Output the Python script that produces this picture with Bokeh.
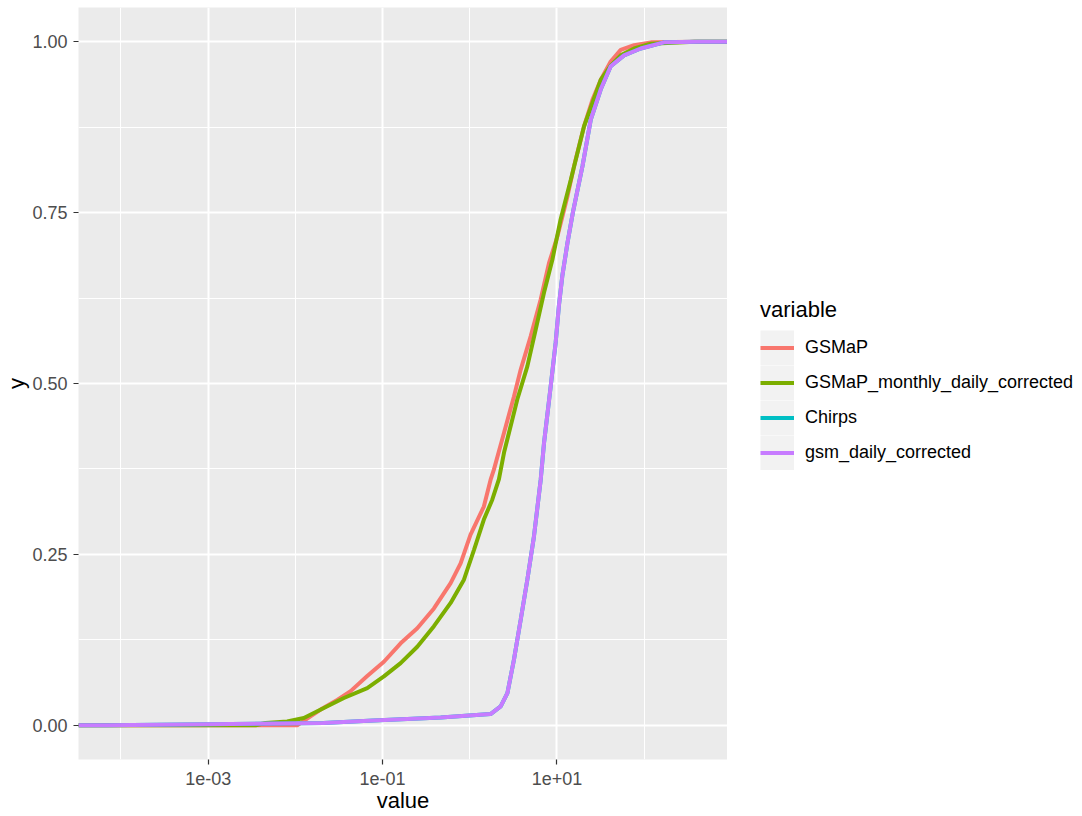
import math
from bokeh.plotting import figure
from bokeh.layouts import row
from bokeh.models import Range1d, FixedTicker, Legend, LegendItem
from bokeh.embed import file_html
from bokeh.resources import INLINE

# ---------------- data ----------------
series_names = ["GSMaP", "GSMaP_monthly_daily_corrected", "Chirps", "gsm_daily_corrected"]
series_colors = ["#F8766D", "#7CAE00", "#00BFC4", "#C77CFF"]

gsmap_x = [0.0105, 0.0149, 0.0195, 0.0302, 0.043, 0.0667, 0.1035, 0.161, 0.25, 0.388,
           0.603, 0.785, 1.02, 1.45, 1.73, 1.89, 2.47, 3.21, 3.83, 4.99, 6.5, 8.09,
           10.1, 13.2, 15.7, 20.4, 25.5, 31.7, 41.3, 53.8, 76.6, 119, 408]
gsmap_y = [0.0, 0.013, 0.023, 0.037, 0.05, 0.072, 0.093, 0.12, 0.142, 0.171,
           0.208, 0.237, 0.279, 0.32, 0.359, 0.374, 0.428, 0.481, 0.52, 0.569, 0.623, 0.676,
           0.715, 0.774, 0.818, 0.876, 0.915, 0.944, 0.971, 0.988, 0.995, 0.999, 1.0]

mdc_x = [0.0035, 0.00455, 0.00805, 0.0125, 0.0212, 0.036, 0.0667, 0.1035, 0.161, 0.25,
         0.388, 0.603, 0.857, 1.12, 1.45, 1.81, 2.16, 2.47, 3.51, 4.57, 5.7, 7.1, 8.85,
         11.0, 14.4, 20.4, 31.7, 41.3, 53.8, 76.6, 119, 380]
mdc_y = [0.0, 0.0034, 0.0057, 0.0107, 0.0253, 0.04, 0.0545, 0.0715, 0.091, 0.115,
         0.145, 0.179, 0.213, 0.257, 0.301, 0.33, 0.36, 0.399, 0.477, 0.525, 0.579, 0.633, 0.681,
         0.74, 0.798, 0.876, 0.944, 0.965, 0.98, 0.99, 0.997, 1.0]

gsm_x = [7.1e-5, 0.021, 0.0789, 0.464, 1.73, 2.26, 2.70, 3.21, 3.83, 4.57, 5.44, 6.5, 7.1,
         8.47, 9.66, 10.5, 11.5, 13.2, 15.2, 19.6, 24.4, 31.7, 41.3, 58.7, 91.2, 169, 414]
gsm_y = [0.0, 0.0034, 0.0072, 0.0115, 0.0165, 0.0276, 0.0472, 0.096, 0.154, 0.213, 0.276,
         0.359, 0.413, 0.496, 0.56, 0.613, 0.657, 0.706, 0.75, 0.818, 0.886, 0.93, 0.964,
         0.98, 0.99, 0.999, 1.0]

# Chirps is not visible in the reference: it lies hidden under gsm_daily_corrected
chirps_x = list(gsm_x)
chirps_y = list(gsm_y)

x_tick_values = [1e-3, 1e-1, 1e1]
x_tick_labels = ["1e-03", "1e-01", "1e+01"]
x_minor_values = [1e-4, 1e-2, 1e0, 1e2]
y_tick_values = [0.0, 0.25, 0.5, 0.75, 1.0]
y_tick_labels = ["0.00", "0.25", "0.50", "0.75", "1.00"]
y_minor_values = [0.125, 0.375, 0.625, 0.875]

# ---------------- ranges (ggplot-like 5% expansion) ----------------
all_x = gsmap_x + mdc_x + gsm_x
lo, hi = math.log10(min(all_x)), math.log10(max(all_x))
ex = (hi - lo) * 0.05
x_start, x_end = 10 ** (lo - ex), 10 ** (hi + ex)

FONT = "Liberation Sans"
LINE_W = 4

p = figure(width=727, height=816, x_axis_type="log",
           x_range=Range1d(x_start, x_end), y_range=Range1d(-0.05, 1.05),
           output_backend="svg", toolbar_location=None,
           x_axis_label="value", y_axis_label="y",
           min_border_left=78, min_border_right=0,
           min_border_top=7, min_border_bottom=57)
p.background_fill_color = "#EBEBEB"
p.border_fill_color = "white"
p.outline_line_color = None

xt = FixedTicker(ticks=x_tick_values, minor_ticks=x_minor_values)
yt = FixedTicker(ticks=y_tick_values, minor_ticks=y_minor_values)
p.xaxis.ticker = xt
p.yaxis.ticker = yt
p.xgrid.ticker = xt
p.ygrid.ticker = yt
p.xaxis.major_label_overrides = dict(zip(x_tick_values, x_tick_labels))
p.yaxis.major_label_overrides = dict(zip(y_tick_values, y_tick_labels))

for g in (p.xgrid, p.ygrid):
    g.grid_line_color = "white"
    g.grid_line_width = 2
    g.minor_grid_line_color = "white"
    g.minor_grid_line_width = 1

for ax in (p.xaxis, p.yaxis):
    ax.axis_line_color = None
    ax.minor_tick_line_color = None
    ax.major_tick_line_color = "#333333"
    ax.major_tick_line_width = 1.2
    ax.major_tick_in = 0
    ax.major_tick_out = 5
    ax.major_label_text_font = FONT
    ax.major_label_text_font_size = "18px"
    ax.major_label_text_color = "#4D4D4D"
    ax.axis_label_text_font = FONT
    ax.axis_label_text_font_size = "22px"
    ax.axis_label_text_font_style = "normal"
    ax.axis_label_text_color = "black"
    ax.axis_label_standoff = 0
p.xaxis.major_label_standoff = 7
p.yaxis.major_label_standoff = 6

# ---------------- ECDF lines (padded to -Inf / +Inf like stat_ecdf) ----------------
data = [(gsmap_x, gsmap_y), (mdc_x, mdc_y), (chirps_x, chirps_y), (gsm_x, gsm_y)]
for (xs, ys), col in zip(data, series_colors):
    p.line([x_start] + xs + [x_end], [0.0] + ys + [1.0],
           line_color=col, line_width=LINE_W)

# ---------------- legend panel (separate canvas to the right) ----------------
lg = figure(width=355, height=816, output_backend="svg", toolbar_location=None,
            x_axis_location=None, y_axis_location=None,
            min_border=0, x_range=Range1d(0, 1), y_range=Range1d(0, 1))
lg.grid.visible = False
lg.outline_line_color = None
lg.background_fill_color = "white"
lg.border_fill_color = "white"

nan = float("nan")
# grey key boxes (ggplot legend.key), visible only inside the legend
key_bg = lg.line([nan], [nan], line_color="#F2F2F2", line_width=35, line_cap="butt")
key_lines = [lg.line([nan], [nan], line_color=col, line_width=LINE_W) for col in series_colors]

legend = Legend(items=[LegendItem(label=n, renderers=[key_bg, r])
                       for n, r in zip(series_names, key_lines)],
                location=(33, 289), title="variable",
                title_text_font=FONT, title_text_font_size="22px", title_text_color="black",
                title_text_font_style="normal", title_standoff=7,
                label_text_font=FONT, label_text_font_size="18px", label_text_color="black",
                glyph_width=34, glyph_height=35, label_height=35, spacing=0,
                padding=0, margin=0, label_standoff=11,
                background_fill_alpha=0, border_line_alpha=0)
lg.add_layout(legend)

layout = row(p, lg, spacing=0)
open("out.html", "w").write(file_html(layout, INLINE))
